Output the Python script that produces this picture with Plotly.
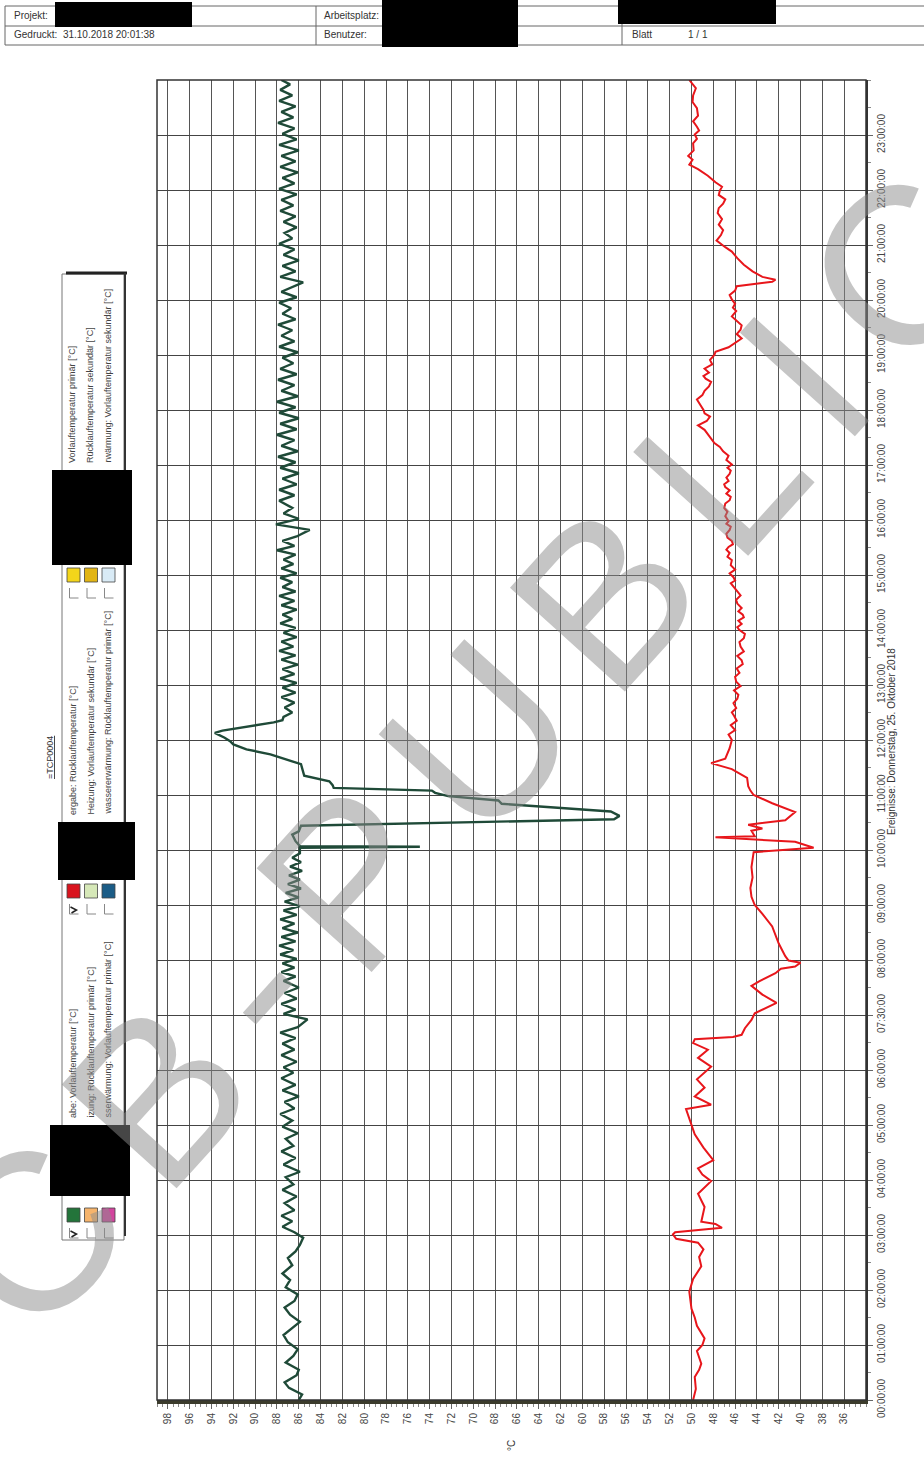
import math
import plotly.graph_objects as go

# Vorlauftemperatur (green), hour of day -> degC
green_pts = [
    (0.00, 86.0), (0.10, 85.7), (0.22, 86.9), (0.32, 87.3), (0.45, 86.2), (0.55, 86.0),
    (0.68, 87.2), (0.80, 86.5), (0.92, 86.1), (1.05, 87.0), (1.18, 87.4), (1.30, 86.6),
    (1.42, 85.9), (1.55, 86.8), (1.68, 87.3), (1.80, 86.4), (1.92, 86.1), (2.05, 87.2),
    (2.18, 86.8), (2.30, 87.5), (2.45, 86.6), (2.58, 87.0), (2.70, 86.3), (2.82, 85.9),
    (2.95, 85.6), (3.05, 86.4), (3.15, 87.5), (3.25, 86.6), (3.35, 87.6), (3.45, 86.4),
    (3.58, 87.3), (3.70, 86.2), (3.82, 87.5), (3.92, 86.5), (4.05, 87.2), (4.15, 85.9),
    (4.28, 87.4), (4.40, 86.3), (4.52, 87.6), (4.62, 86.5), (4.75, 87.2), (4.85, 86.1),
    (4.97, 87.5), (5.08, 86.6), (5.20, 87.7), (5.30, 86.4), (5.42, 87.3), (5.52, 86.0),
    (5.63, 87.5), (5.73, 86.3), (5.85, 87.6), (5.95, 86.5), (6.05, 87.4), (6.15, 86.2),
    (6.27, 87.6), (6.37, 86.4), (6.48, 87.5), (6.58, 86.3), (6.68, 87.7), (6.78, 86.1),
    (6.92, 85.2), (7.02, 87.4), (7.10, 86.3), (7.20, 87.6), (7.30, 86.2), (7.40, 87.3),
    (7.50, 86.0), (7.62, 87.4), (7.70, 86.3), (7.78, 87.6), (7.86, 86.4), (7.94, 87.5),
    (8.02, 86.2), (8.10, 87.7), (8.18, 86.5), (8.26, 87.8), (8.34, 86.3), (8.42, 87.6),
    (8.50, 86.1), (8.58, 87.5), (8.66, 86.4), (8.74, 87.7), (8.82, 86.2), (8.90, 87.4),
    (8.98, 85.9), (9.06, 87.3), (9.14, 86.0), (9.22, 87.2), (9.30, 85.8), (9.38, 87.0),
    (9.46, 85.9), (9.54, 86.9), (9.62, 85.7), (9.70, 86.8), (9.78, 85.8), (9.86, 86.6),
    (9.94, 85.9), (10.04, 85.9), (10.06, 74.9), (10.07, 85.9), (10.16, 86.3), (10.28, 86.6),
    (10.34, 86.0), (10.44, 85.8), (10.56, 57.1), (10.62, 56.6), (10.70, 57.4), (10.84, 67.4),
    (10.90, 67.7), (10.98, 72.3), (11.04, 73.5), (11.08, 73.8), (11.13, 82.8), (11.18, 82.9),
    (11.25, 83.2), (11.35, 85.5), (11.50, 85.7), (11.56, 85.8), (11.74, 88.6), (11.83, 90.8),
    (11.92, 92.0), (11.98, 92.3), (12.04, 92.8), (12.13, 93.7), (12.17, 93.0), (12.22, 91.4),
    (12.32, 88.3), (12.36, 87.5), (12.42, 87.4), (12.50, 86.6), (12.59, 87.3), (12.68, 86.4),
    (12.78, 87.6), (12.86, 86.3), (12.95, 87.5), (13.04, 86.2), (13.12, 87.7), (13.20, 86.4),
    (13.29, 87.5), (13.37, 86.1), (13.46, 87.6), (13.54, 86.3), (13.62, 87.8), (13.70, 86.5),
    (13.79, 87.6), (13.87, 86.2), (13.95, 87.4), (14.04, 86.3), (14.12, 87.7), (14.20, 86.6),
    (14.28, 87.5), (14.37, 86.2), (14.45, 87.6), (14.53, 86.4), (14.62, 87.8), (14.70, 86.3),
    (14.78, 87.5), (14.87, 86.6), (14.95, 87.7), (15.03, 86.2), (15.12, 87.6), (15.20, 86.5),
    (15.28, 87.4), (15.37, 86.3), (15.45, 88.0), (15.53, 86.4), (15.62, 87.5), (15.70, 86.2),
    (15.82, 85.0), (15.92, 88.1), (16.02, 86.0), (16.12, 87.4), (16.22, 86.6), (16.35, 87.8),
    (16.45, 86.4), (16.55, 87.8), (16.65, 86.2), (16.75, 87.5), (16.85, 86.0), (16.95, 87.7),
    (17.05, 86.3), (17.15, 87.9), (17.25, 86.1), (17.35, 87.6), (17.45, 86.4), (17.55, 88.0),
    (17.65, 86.2), (17.75, 87.7), (17.85, 86.0), (17.95, 87.8), (18.05, 86.3), (18.15, 88.0),
    (18.25, 86.1), (18.35, 87.6), (18.45, 86.4), (18.55, 87.9), (18.65, 86.2), (18.75, 87.7),
    (18.85, 86.5), (18.95, 87.5), (19.05, 86.1), (19.15, 87.8), (19.25, 86.4), (19.35, 87.6),
    (19.45, 86.6), (19.55, 87.9), (19.65, 86.3), (19.75, 87.5), (19.85, 86.7), (19.95, 87.8),
    (20.05, 86.2), (20.15, 87.6), (20.25, 86.5), (20.32, 85.6), (20.42, 87.7), (20.52, 86.3),
    (20.62, 87.5), (20.72, 86.0), (20.82, 87.4), (20.92, 86.4), (21.02, 87.8), (21.12, 86.6),
    (21.22, 87.3), (21.32, 86.2), (21.42, 87.4), (21.52, 86.3), (21.62, 87.7), (21.72, 86.5),
    (21.82, 87.6), (21.92, 86.2), (22.02, 87.8), (22.12, 86.4), (22.22, 87.5), (22.32, 86.1),
    (22.42, 87.7), (22.52, 86.3), (22.62, 87.6), (22.72, 86.0), (22.82, 87.8), (22.92, 86.2),
    (23.02, 87.5), (23.12, 86.4), (23.22, 87.9), (23.32, 86.5), (23.42, 87.6), (23.52, 86.3),
    (23.62, 87.8), (23.72, 86.6), (23.82, 87.7), (23.92, 86.8), (24.00, 87.6),
]

# Ruecklauftemperatur (red), hour of day -> degC
red_pts = [
    (0.00, 49.85), (0.20, 49.6), (0.42, 49.7), (0.55, 49.3), (0.66, 49.1), (0.89, 49.5),
    (1.00, 49.0), (1.12, 48.8), (1.35, 49.5), (1.50, 49.7), (1.66, 50.0), (1.97, 50.2),
    (2.20, 49.85), (2.43, 49.1), (2.60, 49.3), (2.74, 48.9), (2.86, 49.4), (2.93, 51.4),
    (3.01, 51.7), (3.05, 51.5), (3.13, 47.2), (3.20, 47.8), (3.24, 49.1), (3.40, 48.9),
    (3.51, 48.8), (3.75, 49.4), (3.98, 48.2), (4.10, 49.0), (4.21, 49.4), (4.36, 48.0),
    (4.59, 48.9), (4.83, 49.7), (5.14, 50.2), (5.29, 50.5), (5.37, 48.2), (5.52, 49.7),
    (5.68, 48.8), (5.83, 49.5), (6.06, 48.2), (6.22, 49.4), (6.37, 48.5), (6.49, 49.85),
    (6.56, 49.7), (6.60, 46.2), (6.64, 45.4), (6.76, 45.1), (6.91, 44.5), (7.03, 44.2),
    (7.22, 42.2), (7.37, 43.5), (7.53, 44.5), (7.61, 43.8), (7.76, 42.3), (7.84, 41.8),
    (7.88, 40.5), (7.95, 40.0), (7.99, 41.1), (8.07, 41.4), (8.30, 42.0), (8.61, 42.6),
    (8.84, 43.5), (9.00, 44.2), (9.15, 44.5), (9.31, 44.6), (9.50, 44.4), (9.69, 44.5),
    (9.96, 44.3), (10.04, 38.8), (10.15, 40.5), (10.23, 47.8), (10.25, 44.2), (10.35, 44.5),
    (10.39, 43.5), (10.46, 44.8), (10.54, 41.4), (10.69, 40.5), (10.85, 42.6), (11.00, 44.3),
    (11.08, 44.6), (11.16, 44.8), (11.31, 44.9), (11.47, 46.3), (11.58, 48.2), (11.66, 46.9),
    (11.85, 46.5), (12.00, 46.3), (12.10, 46.6), (12.18, 46.0), (12.27, 46.4), (12.35, 45.85),
    (12.44, 46.1), (12.50, 46.3), (12.58, 45.9), (12.67, 46.15), (12.75, 45.8), (12.82, 45.7),
    (12.90, 46.1), (12.98, 45.5), (13.06, 45.9), (13.15, 46.0), (13.22, 45.6), (13.30, 45.85),
    (13.38, 45.3), (13.45, 45.4), (13.53, 45.8), (13.61, 45.2), (13.70, 45.5), (13.78, 45.6),
    (13.85, 45.2), (13.93, 45.1), (14.00, 45.6), (14.05, 45.8), (14.11, 45.4), (14.17, 45.7),
    (14.23, 45.2), (14.28, 45.3), (14.34, 45.7), (14.40, 45.4), (14.48, 45.8), (14.55, 45.9),
    (14.63, 45.5), (14.72, 45.85), (14.79, 46.2), (14.85, 46.4), (14.90, 46.0), (14.96, 46.15),
    (15.03, 46.5), (15.10, 46.0), (15.18, 46.4), (15.27, 46.3), (15.33, 46.7), (15.40, 46.5),
    (15.46, 46.8), (15.51, 46.6), (15.56, 46.2), (15.62, 46.3), (15.68, 46.7), (15.75, 46.8),
    (15.82, 46.5), (15.88, 46.4), (15.93, 46.8), (15.98, 46.6), (16.07, 46.9), (16.15, 46.7),
    (16.22, 47.0), (16.30, 46.9), (16.36, 46.5), (16.42, 46.4), (16.48, 46.8), (16.54, 46.5),
    (16.60, 46.9), (16.65, 47.0), (16.71, 46.6), (16.77, 46.8), (16.84, 46.5), (16.90, 46.4),
    (16.95, 46.7), (17.01, 46.3), (17.09, 46.8), (17.17, 46.6), (17.25, 47.1), (17.33, 47.4),
    (17.40, 47.9), (17.48, 48.2), (17.56, 48.5), (17.64, 48.8), (17.72, 49.4), (17.80, 48.6),
    (17.88, 48.3), (17.94, 48.8), (18.00, 48.9), (18.10, 49.2), (18.19, 49.5), (18.27, 49.0),
    (18.35, 48.8), (18.43, 48.4), (18.51, 48.2), (18.57, 48.7), (18.62, 48.9), (18.68, 48.4),
    (18.75, 48.8), (18.83, 48.1), (18.91, 48.3), (19.00, 47.9), (19.06, 47.8), (19.14, 46.6),
    (19.22, 46.0), (19.30, 45.4), (19.38, 45.85), (19.46, 45.5), (19.54, 45.4), (19.62, 45.9),
    (19.70, 46.3), (19.80, 45.9), (19.86, 46.2), (19.93, 46.0), (20.01, 46.3), (20.09, 46.5),
    (20.17, 46.0), (20.25, 45.85), (20.33, 42.6), (20.37, 42.3), (20.42, 43.5), (20.52, 44.4),
    (20.64, 45.2), (20.76, 45.8), (20.88, 46.3), (20.96, 46.9), (21.04, 47.4), (21.08, 47.7),
    (21.18, 47.3), (21.27, 47.1), (21.37, 47.5), (21.47, 47.2), (21.58, 47.6), (21.67, 47.5),
    (21.75, 47.1), (21.83, 46.9), (21.91, 47.5), (21.99, 47.4), (22.06, 47.2), (22.14, 47.8),
    (22.26, 48.5), (22.38, 49.4), (22.46, 50.2), (22.55, 49.9), (22.62, 50.3), (22.72, 49.8),
    (22.85, 49.85), (22.93, 49.5), (23.01, 49.7), (23.08, 49.3), (23.15, 49.5), (23.25, 49.85),
    (23.35, 49.4), (23.49, 49.5), (23.60, 49.9), (23.72, 49.85), (23.85, 49.6), (24.00, 50.2),
]

temp_ticks = list(range(98, 35, -2))
hour_ticks = list(range(24))
hour_labels = [f"{h:02d}:00:00" for h in hour_ticks]
hour_labels[7] = "07:30:00"

legend_labels = [
    ["abe: Vorlauftemperatur [°C]", "izung: Rücklauftemperatur primär [°C]",
     "sserwärmung: Vorlauftemperatur primär [°C]"],
    ["ergabe: Rücklauftemperatur [°C]", "Heizung: Vorlauftemperatur sekundär [°C]",
     "wassererwärmung: Rücklauftemperatur primär [°C]"],
    ["Vorlauftemperatur primär [°C]", "Rücklauftemperatur sekundär [°C]",
     "rwärmung: Vorlauftemperatur sekundär [°C]"],
]
legend_colors = [
    ["#23743a", "#f6b46c", "#d2449e"],
    ["#d9141e", "#d6e8b8", "#1b5c86"],
    ["#f3d51a", "#e2b514", "#d9ebf6"],
]
legend_checked = [True, True, False]

W, H = 924, 1476
L, R, T, B = 157, 866, 80, 1400
FONT = "Liberation Sans, Arial, sans-serif"


def px(x):
    return (x - L) / (R - L)


def py(y):
    return (B - y) / (B - T)


fig = go.Figure()
fig.add_trace(go.Scatter(
    x=[p[1] for p in green_pts], y=[p[0] for p in green_pts],
    mode="lines", line=dict(color="#1f4a38", width=2.4), showlegend=False,
))
fig.add_trace(go.Scatter(
    x=[p[1] for p in red_pts], y=[p[0] for p in red_pts],
    mode="lines", line=dict(color="#e8161b", width=2.0), showlegend=False,
))

shapes = []
annots = []


def line(x0, y0, x1, y1, color="#555", width=1):
    shapes.append(dict(type="line", xref="paper", yref="paper",
                       x0=px(x0), y0=py(y0), x1=px(x1), y1=py(y1),
                       line=dict(color=color, width=width)))


def rect(x0, y0, x1, y1, fill="black", color="black", width=0):
    shapes.append(dict(type="rect", xref="paper", yref="paper",
                       x0=px(x0), y0=py(y0), x1=px(x1), y1=py(y1),
                       fillcolor=fill, line=dict(color=color, width=width)))


def text(x, y, s, size=10, angle=0, xanchor="left", yanchor="middle", color="#333"):
    annots.append(dict(xref="paper", yref="paper", x=px(x), y=py(y), text=s,
                       showarrow=False, textangle=angle, xanchor=xanchor,
                       yanchor=yanchor, font=dict(family=FONT, size=size, color=color)))


# header table
for yy in (6, 26, 45):
    line(5, yy, 924, yy, "#666", 1)
for xx in (5, 316, 622):
    line(xx, 6, xx, 45, "#666", 1)
text(12, 16, "Projekt:", 10)
text(12, 35, "Gedruckt:  31.10.2018 20:01:38", 10)
text(322, 16, "Arbeitsplatz:", 10)
text(322, 35, "Benutzer:", 10)
text(630, 35, "Blatt", 10)
text(686, 35, "1 / 1", 10)
rect(55, 2, 192, 27)
rect(382, 0, 518, 47)
rect(618, 0, 776, 24)

# plot frame
rect(L, T, R, B, fill="rgba(0,0,0,0)", color="#333", width=1.5)

# legend box (rotated)
rect(62, 274, 124, 1240, fill="white", color="#777", width=1)
line(66, 273, 127, 273, "#222", 3)
line(125, 273, 125, 1236, "#333", 2)
group_base = [1222, 898, 582]
black_boxes = [(50, 1125, 130, 1196), (58, 822, 135, 880), (52, 470, 132, 565)]
col_x = [73.5, 91, 108.5]
for g, base in enumerate(group_base):
    for c in range(3):
        cx = col_x[c]
        rect(cx - 6.5, base - 14, cx + 6.5, base, fill=legend_colors[g][c], color="#444", width=0.8)
        shapes.append(dict(type="path", xref="paper", yref="paper",
                           path=f"M {px(cx - 4)} {py(base + 6)} L {px(cx - 4)} {py(base + 16)} "
                                f"L {px(cx + 5)} {py(base + 16)}",
                           line=dict(color="#888", width=1)))
        text(cx - 1, black_boxes[g][1] - 5, legend_labels[g][c], 9,
             angle=-90, xanchor="center", yanchor="bottom", color="#444")
    if legend_checked[g]:
        shapes.append(dict(type="path", xref="paper", yref="paper",
                           path=f"M {px(col_x[0] - 3)} {py(base + 9)} L {px(col_x[0] + 3)} {py(base + 12)} "
                                f"L {px(col_x[0] - 2)} {py(base + 15)}",
                           line=dict(color="#222", width=1.5)))
    x0, y0, x1, y1 = black_boxes[g]
    rect(x0, y0, x1, y1)
text(50, 758, "<u>=TCP0004</u>", 9, angle=-90, xanchor="center", yanchor="middle", color="#333")

# axis captions
text(511, 1446, "°C", 10, angle=-90, xanchor="center", yanchor="middle")
text(892, 742, "Ereignisse: Donnerstag, 25. Oktober 2018", 10, angle=-90,
     xanchor="center", yanchor="middle")

# watermark, letter by letter along the page diagonal (runs off the page as in the scan)
wm_letters = "CB-PUBLIC"
wm_widths = [0.722, 0.667, 0.333, 0.667, 0.722, 0.667, 0.556, 0.278, 0.722]
wm_size, wm_gap = 225, 33
sx, sy, ex, ey = 30, 1235, 905, 265
ang = math.atan2(sy - ey, ex - sx)
ux, uy = math.cos(ang), -math.sin(ang)
pos = 0.0
c0 = wm_widths[0] * wm_size / 2
for i, ch in enumerate(wm_letters):
    ctr = pos + wm_widths[i] * wm_size / 2
    d = ctr - c0
    annots.append(dict(xref="paper", yref="paper", x=px(sx + d * ux), y=py(sy + d * uy),
                       text=ch, showarrow=False, textangle=-math.degrees(ang),
                       xanchor="center", yanchor="middle",
                       font=dict(family=FONT, size=wm_size, color="rgba(140,140,140,0.5)")))
    pos += wm_widths[i] * wm_size + wm_gap

fig.update_layout(
    width=W, height=H,
    margin=dict(l=L, r=W - R, t=T, b=H - B),
    paper_bgcolor="white", plot_bgcolor="white",
    font=dict(family=FONT, size=10, color="#333"),
    shapes=shapes, annotations=annots,
    xaxis=dict(
        range=[99, 34], tickvals=temp_ticks, ticktext=[str(t) for t in temp_ticks],
        tickangle=-90, tickfont=dict(size=10, color="#444"),
        showgrid=True, gridcolor="#555", gridwidth=1.1, zeroline=False,
        showline=True, linecolor="#3b3b2c", linewidth=4,
        ticks="outside", ticklen=5, tickcolor="#666",
        minor=dict(dtick=0.5, ticks="outside", ticklen=3, tickcolor="#888", showgrid=False),
    ),
    yaxis=dict(
        range=[0, 24], side="right", tickvals=hour_ticks, ticktext=hour_labels,
        tickangle=-90, tickfont=dict(size=10, color="#444"),
        showgrid=True, gridcolor="#444", gridwidth=1.4, zeroline=False,
        showline=True, linecolor="#333", linewidth=2,
        ticks="outside", ticklen=5, tickcolor="#666",
        minor=dict(dtick=0.5, ticks="outside", ticklen=3, tickcolor="#888", showgrid=False),
    ),
)

fig.write_html("out.html", config={"displayModeBar": False},
               post_script="document.body.style.margin='0';")
